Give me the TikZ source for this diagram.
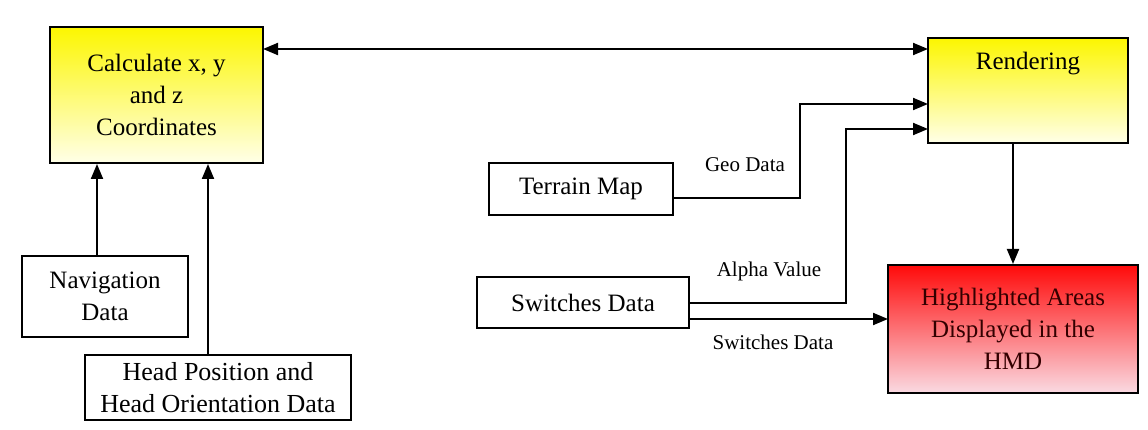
\documentclass[tikz,border=0pt]{standalone}
\usepackage{fontspec}
\setmainfont{Liberation Serif}
\usetikzlibrary{arrows.meta,calc}
\definecolor{ytop}{RGB}{252,246,0}
\definecolor{ybot}{RGB}{255,255,232}
\definecolor{rtop}{RGB}{255,10,10}
\definecolor{rbot}{RGB}{250,218,226}
\tikzset{
  box/.style={draw=black, line width=2pt, inner sep=0pt, align=center,
    font=\rmfamily\fontsize{25}{32}\selectfont},
  ybox/.style={box, top color=ytop, bottom color=ybot},
  rbox/.style={box, top color=rtop, bottom color=rbot, text=black!80!red},
  conn/.style={line width=2pt, -{Triangle[length=15pt,width=12pt]}},
  lbl/.style={font=\rmfamily\fontsize{21}{26}\selectfont, inner sep=0pt}
}
\begin{document}
\begin{tikzpicture}[x=1pt,y=-1pt]
\useasboundingbox (0,0) rectangle (1148,430);
\fill[white] (0,0) rectangle (1148,430);
% boxes
\node[ybox, minimum width=213pt, minimum height=136pt] (calc) at (156.5,95) {Calculate x, y\\and z\\Coordinates};
\node[ybox, minimum width=200pt, minimum height=105pt] (rend) at (1028,90.5) {};
\node[box, draw=none, fill=none, anchor=base] (rendtxt) at (1028,70) {Rendering};
\node[rbox, minimum width=250pt, minimum height=128pt] (hl) at (1013,329) {Highlighted Areas\\Displayed in the\\HMD};
\node[box, minimum width=184pt, minimum height=52pt] (terrain) at (581,189) {Terrain Map};
\node[box, minimum width=212pt, minimum height=51pt] (sw) at (583,302.5) {Switches Data};
\node[box, minimum width=166pt, minimum height=81pt] (nav) at (105,296.5) {Navigation\\Data};
\node[box, minimum width=266pt, minimum height=65pt, font=\rmfamily\fontsize{26}{32}\selectfont] (head) at (218,387.5) {Head Position and\\Head Orientation Data};
% coordinates for bends
\coordinate (tOut) at (673,198);
\coordinate (g1) at (800,198);
\coordinate (g2) at (800,104);
\coordinate (rIn1) at (928,104);
\coordinate (aOut) at (689,303);
\coordinate (a1) at (846,303);
\coordinate (a2) at (846,129);
\coordinate (rIn2) at (928,129);
\coordinate (sOut) at (689,319);
\coordinate (hIn) at (888,319);
\coordinate (cE) at (263,49);
\coordinate (rW) at (928,49);
% connectors
\draw[conn, {Triangle[length=15pt,width=12pt]}-{Triangle[length=15pt,width=12pt]}] (cE) -- (rW);
\draw[conn] (nav.north -| 97,0) -- (calc.south -| 97,0);
\draw[conn] (head.north -| 208,0) -- (calc.south -| 208,0);
\draw[conn] (tOut) -- (g1) -- (g2) -- (rIn1);
\draw[conn] (aOut) -- (a1) -- (a2) -- (rIn2);
\draw[conn] (sOut) -- (hIn);
\draw[conn] (hl.north |- rend.south) -- (hl.north);
% labels
\node[lbl] (geo) at (745,165) {Geo Data};
\node[lbl] (alpha) at (769,271) {Alpha Value};
\node[lbl] (swl) at (773,342) {Switches Data};
\end{tikzpicture}
\end{document}
